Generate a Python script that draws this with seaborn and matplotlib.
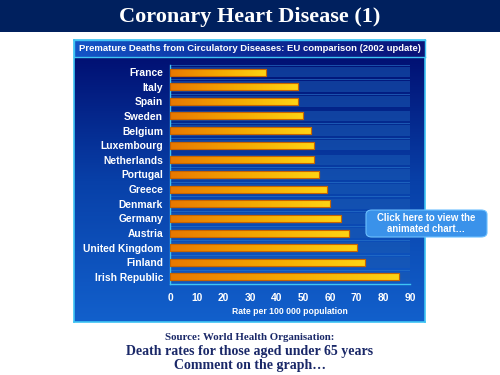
import numpy as np
import pandas as pd
import matplotlib
matplotlib.use('Agg')
from matplotlib import pyplot as plt
from matplotlib.patches import FancyBboxPatch, Rectangle
from matplotlib.colors import LinearSegmentedColormap
import seaborn as sns

sns.set_style('white')

countries = ['France', 'Italy', 'Spain', 'Sweden', 'Belgium', 'Luxembourg',
             'Netherlands', 'Portugal', 'Greece', 'Denmark', 'Germany',
             'Austria', 'United Kingdom', 'Finland', 'Irish Republic']
rates = [36, 48, 48, 50, 53, 54, 54, 56, 59, 60, 64, 67, 70, 73, 86]
xticks = [0, 10, 20, 30, 40, 50, 60, 70, 80, 90]

df = pd.DataFrame({'country': countries, 'rate': rates})

W, H = 500, 375
fig = plt.figure(figsize=(5, 3.75), dpi=100)
fig.patch.set_facecolor('white')

def fx(px):
    return px / W

def fy(py):
    return 1 - py / H

# header band
fig.patches.append(Rectangle((0, fy(32)), 1, 32 / H, transform=fig.transFigure,
                             facecolor='#00205e', edgecolor='none', zorder=0))
fig.text(0.5, fy(17), 'Coronary Heart Disease (1)', ha='center', va='center',
         color='white', fontsize=16, fontweight='bold', family='Liberation Serif')

# panel background with vertical gradient
panel = fig.add_axes([fx(74), fy(322), fx(425 - 74), (322 - 40) / H])
grad = np.linspace(0, 1, 256).reshape(-1, 1)
pcmap = LinearSegmentedColormap.from_list('p', ['#000a6c', '#0840a8', '#1260cc'])
panel.imshow(grad, aspect='auto', cmap=pcmap, extent=[0, 1, 1, 0])
panel.set_xlim(0, 1)
panel.set_ylim(1, 0)
panel.set_xticks([])
panel.set_yticks([])
for s in panel.spines.values():
    s.set_color('#3ec4f4')
    s.set_linewidth(1.2)

# panel title band
tband = fig.add_axes([fx(74), fy(57), fx(425 - 74), 17 / H])
hgrad = np.linspace(0, 1, 256).reshape(1, -1)
tcmap = LinearSegmentedColormap.from_list('t', ['#1456c8', '#0c2a98', '#0a1478'])
tband.imshow(hgrad, aspect='auto', cmap=tcmap, extent=[0, 1, 0, 1])
tband.set_xticks([])
tband.set_yticks([])
for s in tband.spines.values():
    s.set_color('#3ec4f4')
    s.set_linewidth(1.0)
tband.text(0.5, 0.5, 'Premature Deaths from Circulatory Diseases: EU comparison (2002 update)',
           ha='center', va='center', color='white', fontsize=6.8, fontweight='bold',
           family='Liberation Sans', transform=tband.transAxes)

# main bar chart
ax = fig.add_axes([fx(170), fy(284.3), fx(410 - 170), (284.3 - 64.7) / H])
ax.patch.set_alpha(0)
sns.barplot(data=df, x='rate', y='country', orient='h', ax=ax, width=0.48,
            color='#f5b000', edgecolor='#c86a00', linewidth=0.8, zorder=3)
ax.set_xlim(0, 90)
ax.set_ylim(14.5, -0.5)

# row stripes
for i in range(len(countries)):
    ax.add_patch(Rectangle((0, i - 0.36), 90, 0.72, facecolor='#1a5ab4',
                           edgecolor='none', alpha=0.55, zorder=1))
    ax.add_patch(Rectangle((0, i - 0.5), 90, 0.06, facecolor='#2a78cc',
                           edgecolor='none', alpha=0.6, zorder=1))

# gradient fill of bars
bcmap = LinearSegmentedColormap.from_list('b', ['#e87800', '#f4a800', '#ffd414'])
for bar in list(ax.patches):
    if bar.get_zorder() != 3:
        continue
    x0, y0 = bar.get_x(), bar.get_y()
    w, h = bar.get_width(), bar.get_height()
    im = ax.imshow(hgrad, aspect='auto', cmap=bcmap,
                   extent=[x0, x0 + w, y0 + h, y0], zorder=3.5)
    im.set_clip_path(bar)
    ax.add_patch(Rectangle((x0, y0), w, h, facecolor='none',
                           edgecolor='#c86400', linewidth=0.8, zorder=4))
ax.set_xlim(0, 90)
ax.set_ylim(14.5, -0.5)

ax.set_xticks(xticks)
ax.set_xlabel('Rate per 100 000 population', color='white', fontsize=6.2,
              fontweight='bold', family='Liberation Sans', labelpad=3)
ax.set_ylabel('')
for s in ['top', 'right']:
    ax.spines[s].set_visible(False)
for s in ['left', 'bottom']:
    ax.spines[s].set_color('#3ec4f4')
    ax.spines[s].set_linewidth(1.0)
ax.tick_params(axis='both', colors='#3ec4f4', length=3, width=0.8, direction='out')
ax.tick_params(axis='y', pad=2)
for lab in ax.get_yticklabels() + ax.get_xticklabels():
    lab.set_color('white')
    lab.set_fontweight('bold')
    lab.set_family('Liberation Sans')
    lab.set_fontsize(7.4)

# button overlay
btn = FancyBboxPatch((fx(366), fy(237)), fx(487 - 366), 27 / H,
                     boxstyle='round,pad=0,rounding_size=0.012',
                     transform=fig.transFigure, facecolor='#3a92ea',
                     edgecolor='#6cc0ff', linewidth=0.8, zorder=10)
fig.patches.append(btn)
fig.text(fx(426.5), fy(223.5), 'Click here to view the\nanimated chart\u2026', ha='center',
         va='center', color='white', fontsize=6.9, fontweight='bold',
         family='Liberation Sans', linespacing=1.1, zorder=11)

# bottom notes
navy = '#1a2868'
fig.text(0.5, fy(337), 'Source: World Health Organisation:', ha='center', va='center',
         color=navy, fontsize=7.8, fontweight='bold', family='Liberation Serif')
fig.text(0.5, fy(351), 'Death rates for those aged under 65 years', ha='center',
         va='center', color=navy, fontsize=10, fontweight='bold',
         family='Liberation Serif')
fig.text(0.5, fy(365), 'Comment on the graph\u2026', ha='center', va='center',
         color=navy, fontsize=10, fontweight='bold', family='Liberation Serif')

fig.savefig('out.png', dpi=100)
